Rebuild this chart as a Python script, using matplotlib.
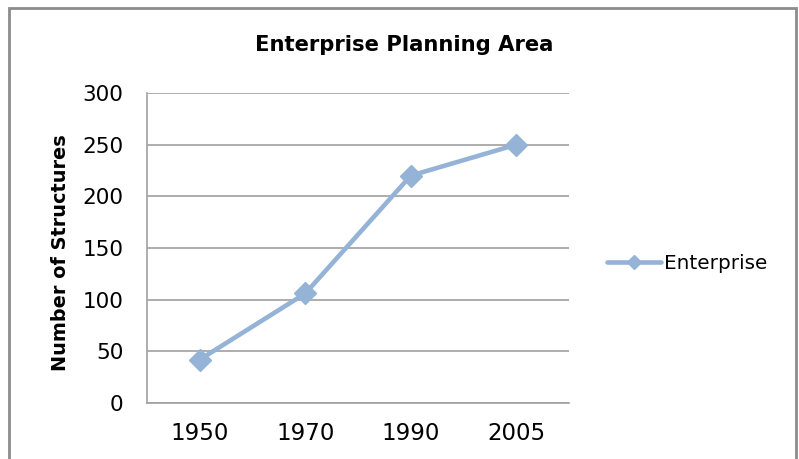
import matplotlib
matplotlib.use("Agg")
import matplotlib.pyplot as plt
from matplotlib.patches import Rectangle

years = ["1950", "1970", "1990", "2005"]
structures = [42, 106, 220, 250]
y_ticks = [0, 50, 100, 150, 200, 250, 300]

plt.rcParams['font.family'] = ['DejaVu Sans']

fig = plt.figure(figsize=(7.99, 4.59), dpi=100)
W, H = 799, 459
ax = fig.add_axes([147 / W, 1 - 403 / H, (569 - 147) / W, (403 - 93) / H])

line_color = "#95B3D7"
x = list(range(len(years)))
ax.plot(x, structures, color=line_color, lw=3.3, marker="D", ms=11.5,
        label="Enterprise", solid_capstyle="round", solid_joinstyle="round")

ax.set_xlim(-0.5, len(years) - 0.5)
ax.set_ylim(0, 300)
ax.set_yticks(y_ticks)
ax.set_xticks(x)
ax.set_xticklabels(years)
ax.tick_params(axis="x", length=0, labelsize=16.5, colors="#000000", pad=14)
ax.tick_params(axis="y", length=0, labelsize=15.5, colors="#000000", pad=17)

ax.grid(axis="y", color="#A0A0A0", lw=1.2)
ax.set_axisbelow(True)
for s in ["top", "right"]:
    ax.spines[s].set_visible(False)
for s in ["left", "bottom"]:
    ax.spines[s].set_color("#A0A0A0")
    ax.spines[s].set_linewidth(1.2)

fig.text(61 / W, 1 - 253 / H, "Number of Structures", rotation=90,
         ha="center", va="center", fontsize=13.9, fontweight="bold")
fig.text(404 / W, 1 - 45 / H, "Enterprise Planning Area",
         ha="center", va="center", fontsize=15.2, fontweight="bold")

leg = ax.legend(loc="center left", bbox_to_anchor=(1.07, 0.45), frameon=False,
                fontsize=14.4, handlelength=2.7, handletextpad=0.15,
                markerscale=0.65, borderaxespad=0)

# chart outline
fig.patches.append(Rectangle((9 / W, -0.05), (796 - 9) / W, 1 - 8 / H + 0.05,
                             transform=fig.transFigure, fill=False,
                             edgecolor="#8C8C8C", lw=2))

fig.savefig("out.png", dpi=100)
